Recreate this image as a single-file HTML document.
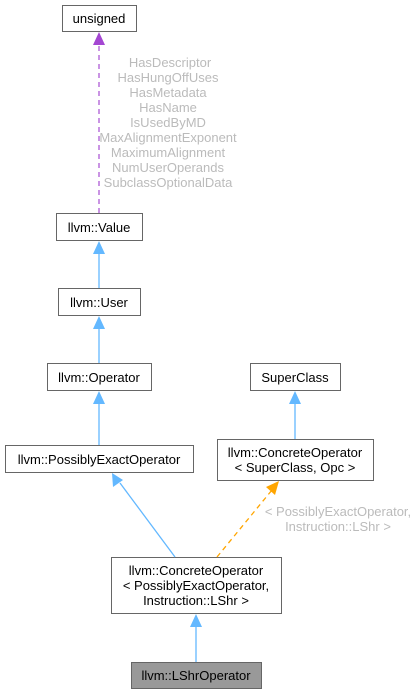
<!DOCTYPE html>
<html><head><style>
body{margin:0;background:#fff;}
svg{display:block;font-family:"Liberation Sans",sans-serif;}
</style></head><body>
<svg width="419" height="694" viewBox="0 0 419 694">
<g fill="#fff" stroke="#666" stroke-width="1">
<rect x="62.5" y="5.5" width="74" height="26"/>
<rect x="56.5" y="213.5" width="86" height="27"/>
<rect x="58.5" y="288.5" width="82" height="27"/>
<rect x="47.5" y="363.5" width="104" height="27"/>
<rect x="250.5" y="363.5" width="90" height="27"/>
<rect x="5.5" y="445.5" width="188" height="27"/>
<rect x="217.5" y="439.5" width="156" height="41"/>
<rect x="111.5" y="557.5" width="170" height="56"/>
<rect x="131.5" y="662.5" width="130" height="26" fill="#999"/>
</g>
<g font-size="13" fill="#000" text-anchor="middle">
<text x="99" y="23">unsigned</text>
<text x="99" y="232">llvm::Value</text>
<text x="99" y="307">llvm::User</text>
<text x="99" y="382">llvm::Operator</text>
<text x="295" y="382">SuperClass</text>
<text x="99" y="464">llvm::PossiblyExactOperator</text>
<text x="295" y="457">llvm::ConcreteOperator</text>
<text x="295" y="472">&lt; SuperClass, Opc &gt;</text>
<text x="196" y="575">llvm::ConcreteOperator</text>
<text x="196" y="590">&lt; PossiblyExactOperator,</text>
<text x="196" y="605">Instruction::LShr &gt;</text>
<text x="196" y="680">llvm::LShrOperator</text>
</g>
<g font-size="13" fill="#bbb" text-anchor="middle">
<text x="170" y="67">HasDescriptor</text>
<text x="168" y="82">HasHungOffUses</text>
<text x="168" y="97">HasMetadata</text>
<text x="168" y="112">HasName</text>
<text x="168" y="127">IsUsedByMD</text>
<text x="168" y="142">MaxAlignmentExponent</text>
<text x="168" y="157">MaximumAlignment</text>
<text x="168" y="172">NumUserOperands</text>
<text x="168" y="187">SubclassOptionalData</text>
<text x="338" y="516">&lt; PossiblyExactOperator,</text>
<text x="338" y="531">Instruction::LShr &gt;</text>
</g>
<g stroke="#63b8ff" stroke-width="1.3" fill="none">
<line x1="99" y1="288" x2="99" y2="252"/>
<line x1="99" y1="363" x2="99" y2="327"/>
<line x1="99" y1="445" x2="99" y2="402"/>
<line x1="295" y1="439" x2="295" y2="402"/>
<line x1="175" y1="557" x2="120" y2="483"/>
<line x1="196" y1="662" x2="196" y2="625"/>
</g>
<g fill="#63b8ff">
<polygon points="99,241 93,254 105,254"/>
<polygon points="99,316 93,329 105,329"/>
<polygon points="99,391 93,404 105,404"/>
<polygon points="295,391 289,404 301,404"/>
<polygon points="112,473 113,487 123,480"/>
<polygon points="196,614 190,627 202,627"/>
</g>
<line x1="217" y1="557" x2="272" y2="490" stroke="#ffa500" stroke-width="1.3" stroke-dasharray="5,4"/>
<polygon points="279,481 266,487 275,495" fill="#ffa500"/>
<line x1="99" y1="213" x2="99" y2="44" stroke="#9a32cd" stroke-width="1.3" stroke-dasharray="5,4" opacity="0.8"/>
<polygon points="99,32 93,45 105,45" fill="#9a32cd" opacity="0.9"/>
</svg>
</body></html>
